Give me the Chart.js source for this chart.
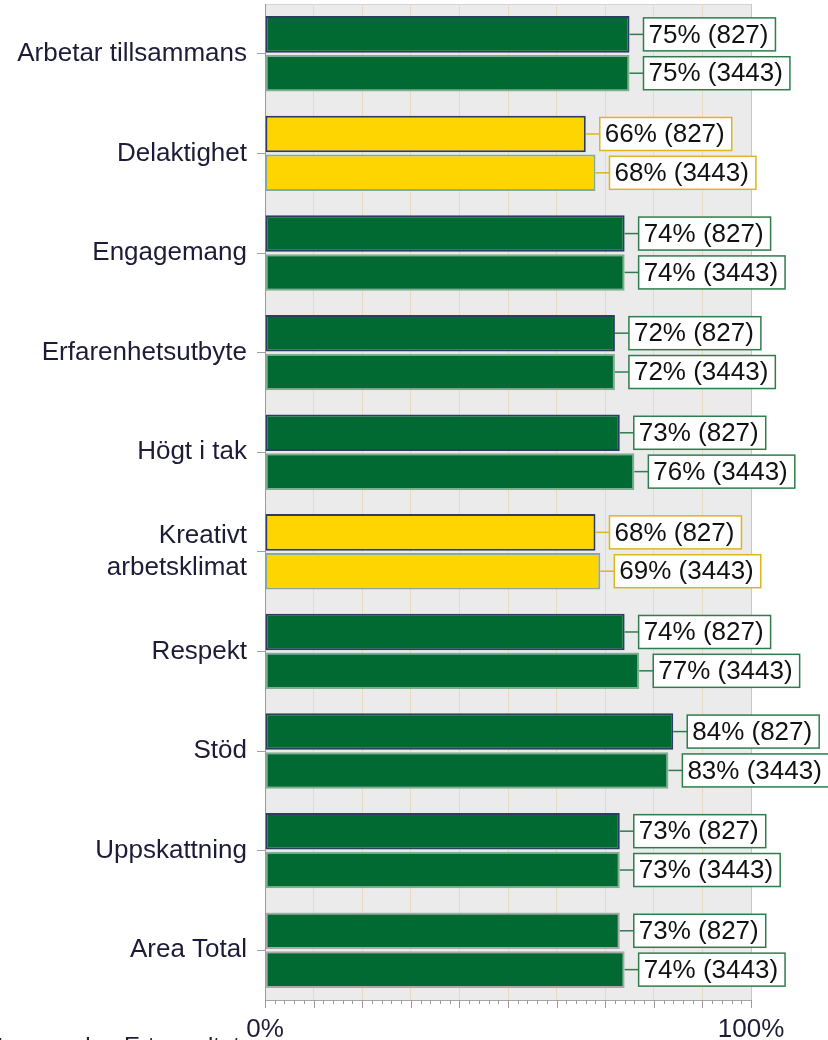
<!DOCTYPE html>
<html>
<head>
<meta charset="utf-8">
<script src="https://cdn.jsdelivr.net/npm/chart.js@4.4.1/dist/chart.umd.min.js"></script>
<style>
  html, body { margin: 0; padding: 0; background: #fff; }
  #wrap { width: 828px; height: 1040px; position: relative; }
</style>
</head>
<body>
<div id="wrap"><canvas id="chart"></canvas></div>
<script>
// ─────────────────────────────────────────────
//  Data
// ─────────────────────────────────────────────

const categories = [
  'Arbetar tillsammans',
  'Delaktighet',
  'Engagemang',
  'Erfarenhetsutbyte',
  'Högt i tak',
  ['Kreativt', 'arbetsklimat'],
  'Respekt',
  'Stöd',
  'Uppskattning',
  'Area Total',
];

const unitValues  = [75, 66, 74, 72, 73, 68, 74, 84, 73, 73]; // (827)
const totalValues = [75, 68, 74, 72, 76, 69, 77, 83, 73, 74]; // (3443)
const seriesN     = [827, 3443];

const xTickLabels = { 0: '0%', 100: '100%' };
const footnote    = 'Stapeln motsvarar den Ert resultat';

// ─────────────────────────────────────────────
//  Styling helpers
// ─────────────────────────────────────────────

const GREEN      = '#006a32';
const YELLOW     = '#ffd500';
const NAVY       = '#1c1c38';
const FONT       = '"Liberation Sans", Arial, sans-serif';
const WARN_BELOW = 70; // below this the bar turns yellow
const TOTAL_IDX  = categories.length - 1;

const fillFor = v => v < WARN_BELOW ? YELLOW : GREEN;
const boxFor  = v => v < WARN_BELOW ? '#dcb520' : '#2f7d4c';

function borderFor(dsIndex, i, v) {
  if (i === TOTAL_IDX) return '#a9a9a9';
  if (dsIndex === 0)   return '#2c3c62';
  return v < WARN_BELOW ? '#86ab9c' : '#7fae90';
}

// ─────────────────────────────────────────────
//  Plugins
// ─────────────────────────────────────────────

const plotBackground = {
  id: 'plotBackground',
  beforeDraw(chart) {
    const { ctx: c, chartArea: { left, top, right, bottom } } = chart;
    c.save();
    c.fillStyle = '#ebebeb';
    c.fillRect(left, top, right - left, bottom - top);
    c.strokeStyle = '#d4d4d4';
    c.lineWidth = 1;
    c.beginPath();
    c.moveTo(left, top + 0.5);
    c.lineTo(right, top + 0.5);
    c.stroke();
    c.restore();
  }
};

// major ticks every 10%, minor every 2%, hanging below the x axis
const xTickMarks = {
  id: 'xTickMarks',
  afterDraw(chart) {
    const { ctx: c, chartArea: { bottom }, scales: { x } } = chart;
    c.save();
    c.strokeStyle = '#9a9a9a';
    c.lineWidth = 1;
    x.ticks.forEach(t => {
      const px  = Math.round(x.getPixelForValue(t.value)) + 0.5;
      const len = t.value % 10 === 0 ? 8 : 4;
      c.beginPath();
      c.moveTo(px, bottom);
      c.lineTo(px, bottom + len);
      c.stroke();
    });
    c.restore();
  }
};

const valueBoxes = {
  id: 'valueBoxes',
  afterDatasetsDraw(chart) {
    const c = chart.ctx;
    c.save();
    c.font = `26px ${FONT}`;
    c.textBaseline = 'middle';
    c.textAlign = 'left';
    chart.data.datasets.forEach((ds, d) => {
      const meta = chart.getDatasetMeta(d);
      meta.data.forEach((bar, i) => {
        const v    = ds.data[i];
        const text = `${v}% (${seriesN[d]})`;
        const tw   = c.measureText(text).width;
        const gap  = 14, padL = 5, padR = 7, h = 33;
        const bx   = bar.x + gap;
        const by   = bar.y - h / 2;
        const col  = boxFor(v);

        c.strokeStyle = col;
        c.lineWidth = 1.5;
        c.beginPath();
        c.moveTo(bar.x, bar.y);
        c.lineTo(bx, bar.y);
        c.stroke();

        c.fillStyle = '#fff';
        c.fillRect(bx, by, tw + padL + padR, h);
        c.strokeRect(bx, by, tw + padL + padR, h);

        c.fillStyle = '#111';
        c.fillText(text, bx + padL, bar.y + 1);
      });
    });
    c.restore();
  }
};

// caption below the chart, mostly cut off by the page edge
const footnoteText = {
  id: 'footnoteText',
  afterDraw(chart) {
    const c = chart.ctx;
    c.save();
    c.font = `24px ${FONT}`;
    c.fillStyle = NAVY;
    c.textBaseline = 'top';
    c.textAlign = 'right';
    c.fillText(footnote, 240, 1035);
    c.restore();
  }
};

// ─────────────────────────────────────────────
//  Chart
// ─────────────────────────────────────────────

const datasets = [unitValues, totalValues].map((vals, d) => ({
  data: vals,
  backgroundColor: vals.map(fillFor),
  borderColor:     vals.map((v, i) => borderFor(d, i, v)),
  borderWidth: 2,
  borderSkipped: false,
  categoryPercentage: 0.78,
  barPercentage: 0.94,
}));

function noPad(s) {
  s.paddingTop = 0; s.paddingBottom = 0;
  s.paddingLeft = 0; s.paddingRight = 0;
}

new Chart(document.getElementById('chart'), {
  type: 'bar',
  data: { labels: categories, datasets },
  options: {
    indexAxis: 'y',
    responsive: true,
    maintainAspectRatio: false,
    animation: false,
    layout: { padding: { top: 4, right: 77, left: 0, bottom: 0 } },
    plugins: {
      legend:  { display: false },
      tooltip: { enabled: false },
    },
    scales: {
      x: {
        min: 0,
        max: 100,
        afterFit: s => { s.height = 40; noPad(s); },
        ticks: {
          stepSize: 2,
          maxTicksLimit: 60,
          autoSkip: false,
          maxRotation: 0,
          padding: 14,
          color: NAVY,
          font: { family: FONT, size: 26 },
          callback: v => xTickLabels[v] ?? '',
        },
        grid: {
          drawTicks: false,
          color: ctx => {
            const v = ctx.tick ? ctx.tick.value : -1;
            if (v === 100) return '#cfc7b6';
            return v % 10 === 0 ? '#e6dbc2' : 'rgba(0,0,0,0)';
          },
        },
        border: { color: '#a6a6a6' },
      },
      y: {
        afterFit: s => { s.width = 265; noPad(s); },
        ticks: {
          padding: 10,
          color: NAVY,
          font: { family: FONT, size: 26, lineHeight: 1.25 },
        },
        grid: {
          offset: false,
          drawOnChartArea: false,
          tickLength: 8,
          color: '#a0a0a0',
        },
        border: { color: '#9a9a9a' },
      },
    },
  },
  plugins: [plotBackground, xTickMarks, valueBoxes, footnoteText],
});
</script>
</body>
</html>
